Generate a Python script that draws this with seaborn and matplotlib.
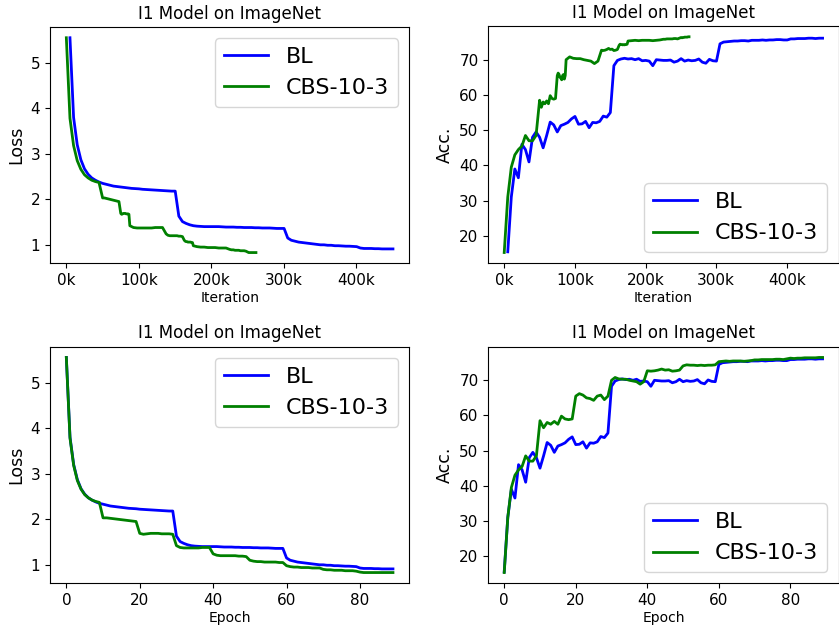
import numpy as np
import pandas as pd
import matplotlib
matplotlib.use("Agg")
import matplotlib.pyplot as plt
from matplotlib.ticker import FuncFormatter
import seaborn as sns

# per-epoch curves (90 epochs)
epochs = np.arange(90)

bl_loss = [5.55, 3.80, 3.20, 2.87, 2.67, 2.55, 2.47, 2.42, 2.38, 2.35,
           2.33, 2.31, 2.29, 2.28, 2.27, 2.26, 2.25, 2.24, 2.235, 2.23,
           2.22, 2.215, 2.21, 2.205, 2.20, 2.195, 2.19, 2.185, 2.18, 2.18,
           1.63, 1.51, 1.47, 1.44, 1.42, 1.41, 1.405, 1.40, 1.40, 1.40,
           1.40, 1.40, 1.395, 1.39, 1.39, 1.39, 1.385, 1.385, 1.38, 1.38,
           1.38, 1.375, 1.375, 1.37, 1.37, 1.37, 1.365, 1.36, 1.36, 1.36,
           1.15, 1.10, 1.08, 1.06, 1.05, 1.04, 1.03, 1.02, 1.01, 1.00,
           1.00, 0.99, 0.99, 0.98, 0.98, 0.975, 0.97, 0.97, 0.965, 0.96,
           0.93, 0.92, 0.92, 0.92, 0.915, 0.915, 0.91, 0.91, 0.91, 0.91]

cbs_loss = [5.55, 3.78, 3.18, 2.85, 2.66, 2.54, 2.47, 2.42, 2.39, 2.37,
            2.03, 2.03, 2.02, 2.01, 2.00, 1.99, 1.98, 1.97, 1.96, 1.95,
            1.69, 1.67, 1.68, 1.69, 1.69, 1.69, 1.68, 1.68, 1.68, 1.67,
            1.42, 1.38, 1.37, 1.37, 1.37, 1.37, 1.37, 1.38, 1.38, 1.38,
            1.24, 1.21, 1.20, 1.20, 1.20, 1.20, 1.20, 1.19, 1.19, 1.18,
            1.10, 1.08, 1.07, 1.07, 1.06, 1.06, 1.06, 1.06, 1.05, 1.05,
            0.98, 0.96, 0.95, 0.95, 0.94, 0.94, 0.94, 0.93, 0.93, 0.93,
            0.90, 0.89, 0.89, 0.88, 0.88, 0.88, 0.87, 0.87, 0.87, 0.86,
            0.84, 0.83, 0.83, 0.83, 0.83, 0.83, 0.83, 0.83, 0.83, 0.83]

bl_acc = [15.5, 31.0, 39.0, 36.5, 46.0, 44.5, 41.0, 48.0, 49.5, 48.0,
          45.0, 48.5, 52.3, 51.5, 49.5, 51.3, 51.7, 52.2, 53.2, 53.9,
          51.7, 51.8, 52.5, 50.7, 52.2, 52.1, 52.5, 54.0, 53.7, 55.0,
          68.3, 69.8, 70.2, 70.4, 70.2, 70.3, 70.0, 70.3, 69.7, 69.8,
          69.6, 68.3, 70.0, 69.9, 69.8, 69.8, 69.9, 69.3, 69.6, 70.3,
          69.6, 69.9, 69.7, 69.8, 70.2, 69.3, 69.0, 70.1, 69.7, 69.6,
          74.5, 75.0, 75.1, 75.2, 75.3, 75.3, 75.4, 75.4, 75.3, 75.5,
          75.5, 75.5, 75.6, 75.5, 75.6, 75.6, 75.7, 75.7, 75.6, 75.6,
          75.9, 75.9, 76.0, 76.0, 76.0, 76.1, 76.1, 76.0, 76.1, 76.1]

cbs_acc = [15.3, 31.0, 39.5, 43.0, 44.5, 45.5, 48.5, 47.0, 47.0, 48.5,
           58.5, 56.5, 58.0, 57.5, 58.3, 57.5, 59.8, 59.0, 58.8, 59.0,
           65.5, 66.2, 65.8, 65.0, 64.8, 64.3, 65.5, 65.8, 64.5, 65.5,
           70.0, 70.8, 70.4, 70.3, 70.3, 70.0, 69.8, 69.6, 68.9, 69.6,
           72.7, 72.6, 72.7, 72.9, 73.2, 72.9, 73.0, 72.6, 72.7, 72.9,
           74.1, 74.4, 74.3, 74.3, 74.2, 74.3, 74.2, 74.3, 74.3, 74.4,
           75.3, 75.4, 75.5, 75.4, 75.5, 75.5, 75.5, 75.4, 75.5, 75.6,
           75.8, 75.8, 75.9, 75.9, 75.9, 75.9, 76.0, 76.0, 75.9, 76.1,
           76.3, 76.2, 76.3, 76.3, 76.4, 76.4, 76.4, 76.4, 76.5, 76.5]

# iterations per epoch: BL fixed batch, CBS batch changes every 10 epochs
bl_iters_per_epoch = 5005
cbs_iters_per_block = [5005, 2502, 1251, 5005, 2502, 1251, 5005, 2502, 1251]

bl_iter = (epochs + 1) * bl_iters_per_epoch
cbs_steps = np.repeat(cbs_iters_per_block, 10)
cbs_iter = np.concatenate([[0], np.cumsum(cbs_steps)[:-1]])

bl = pd.DataFrame({"epoch": epochs, "iter": bl_iter, "loss": bl_loss, "acc": bl_acc})
cbs = pd.DataFrame({"epoch": epochs, "iter": cbs_iter, "loss": cbs_loss, "acc": cbs_acc})

fig, axes = plt.subplots(2, 2, figsize=(8.39, 6.26), dpi=100)

W, H = 839.0, 626.0
boxes = {(0, 0): (50, 27, 409.3, 263.3), (0, 1): (488.3, 26, 838.5, 263.3),
         (1, 0): (50, 346.7, 409.3, 583.3), (1, 1): (488.3, 346.7, 838.5, 583.3)}
for (r, c), (x0, y0, x1, y1) in boxes.items():
    axes[r, c].set_position([x0 / W, 1 - y1 / H, (x1 - x0) / W, (y1 - y0) / H])

kfmt = FuncFormatter(lambda v, p: f"{int(round(v / 1000))}k")

panels = [(0, 0, "iter", "loss", "Loss", "Iteration", "upper right"),
          (0, 1, "iter", "acc", "Acc.", "Iteration", "lower right"),
          (1, 0, "epoch", "loss", "Loss", "Epoch", "upper right"),
          (1, 1, "epoch", "acc", "Acc.", "Epoch", "lower right")]

for r, c, xcol, ycol, ylab, xlab, loc in panels:
    ax = axes[r, c]
    sns.lineplot(data=bl, x=xcol, y=ycol, ax=ax, color="blue", lw=2, label="BL")
    sns.lineplot(data=cbs, x=xcol, y=ycol, ax=ax, color="green", lw=2, label="CBS-10-3")
    ax.set_title("I1 Model on ImageNet", fontsize=12)
    ax.set_ylabel(ylab, fontsize=12.5)
    ax.set_xlabel(xlab, fontsize=10, labelpad=2)
    ax.tick_params(labelsize=11)
    if xcol == "iter":
        ax.xaxis.set_major_formatter(kfmt)
    ax.legend(loc=loc, fontsize=16)

fig.savefig("out.png", dpi=100)
